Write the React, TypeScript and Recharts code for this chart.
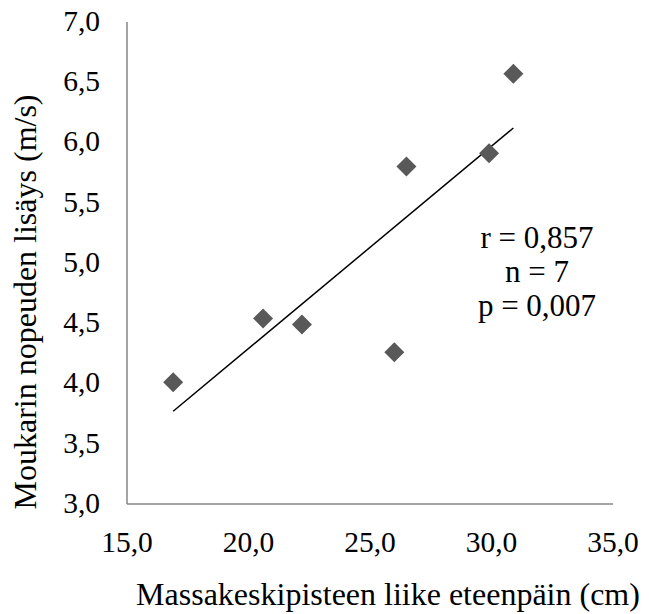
import { ScatterChart, Scatter, XAxis, YAxis, ReferenceLine, Customized } from "recharts";

// mittauspisteet (luettu kuvasta)
const massakeskipiste = [16.9, 20.6, 22.2, 26.0, 26.5, 29.9, 30.9];
const nopeudenLisays = [4.01, 4.54, 4.49, 4.26, 5.8, 5.91, 6.57];

// trendiviivan päätepisteet
const trendX = [16.9, 30.9];
const trendY = [3.77, 6.12];

const xTicks = [15, 20, 25, 30, 35];
const yTicks = [3, 3.5, 4, 4.5, 5, 5.5, 6, 6.5, 7];

const stats = ["r = 0,857", "n = 7", "p = 0,007"];

const FONT = '"Liberation Serif"';
const AXIS_COLOR = "#868686";

const data = massakeskipiste.map((x, i) => ({ x, y: nopeudenLisays[i] }));
const fmt = (v: number) => v.toFixed(1).replace(".", ",");

// vinoneliö-merkki kuten Excelissä
const Diamond = (props: any) => {
  const { cx, cy } = props;
  const r = 10;
  return (
    <polygon
      points={`${cx},${cy - r} ${cx + r},${cy} ${cx},${cy + r} ${cx - r},${cy}`}
      fill="#595959"
    />
  );
};

const XTick = (props: any) => (
  <text
    x={props.x}
    y={531}
    dy="0.71em"
    textAnchor="middle"
    style={{ fontFamily: FONT, fontSize: 29.5, fill: "#000" }}
  >
    {fmt(props.payload.value)}
  </text>
);

const YTick = (props: any) => (
  <text
    x={100}
    y={props.y}
    dy="0.3em"
    textAnchor="end"
    style={{ fontFamily: FONT, fontSize: 29.5, fill: "#000" }}
  >
    {fmt(props.payload.value)}
  </text>
);

const titleStyle = { fontFamily: FONT, fontSize: 32, fill: "#000" };
const statStyle = { fontFamily: FONT, fontSize: 31, fill: "#000" };

const Texts = () => (
  <g>
    <text
      x={36}
      y={302}
      textAnchor="middle"
      transform="rotate(-90, 36, 302)"
      style={titleStyle}
    >
      Moukarin nopeuden lisäys (m/s)
    </text>
    <text x={388} y={605} textAnchor="middle" style={titleStyle}>
      Massakeskipisteen liike eteenpäin (cm)
    </text>
    {stats.map((s, i) => (
      <text key={s} x={537} y={248 + i * 34} textAnchor="middle" style={statStyle}>
        {s}
      </text>
    ))}
  </g>
);

export default function App() {
  return (
    <div style={{ position: "absolute", left: 0, top: 0 }}>
      <ScatterChart
        width={649}
        height={614}
        margin={{ top: 22, right: 36, bottom: 50, left: 60 }}
      >
        <XAxis
          type="number"
          dataKey="x"
          domain={[15, 35]}
          ticks={xTicks}
          height={60}
          tickLine={false}
          axisLine={{ stroke: AXIS_COLOR, strokeWidth: 1.5 }}
          tick={<XTick />}
          interval={0}
        />
        <YAxis
          type="number"
          dataKey="y"
          domain={[3, 7]}
          ticks={yTicks}
          width={67}
          tickLine={false}
          axisLine={{ stroke: AXIS_COLOR, strokeWidth: 1.5 }}
          tick={<YTick />}
          interval={0}
        />
        <ReferenceLine
          segment={[
            { x: trendX[0], y: trendY[0] },
            { x: trendX[1], y: trendY[1] },
          ]}
          stroke="#000"
          strokeWidth={1.5}
          ifOverflow="visible"
        />
        <Scatter data={data} shape={Diamond} isAnimationActive={false} />
        <Customized component={Texts} />
      </ScatterChart>
    </div>
  );
}
